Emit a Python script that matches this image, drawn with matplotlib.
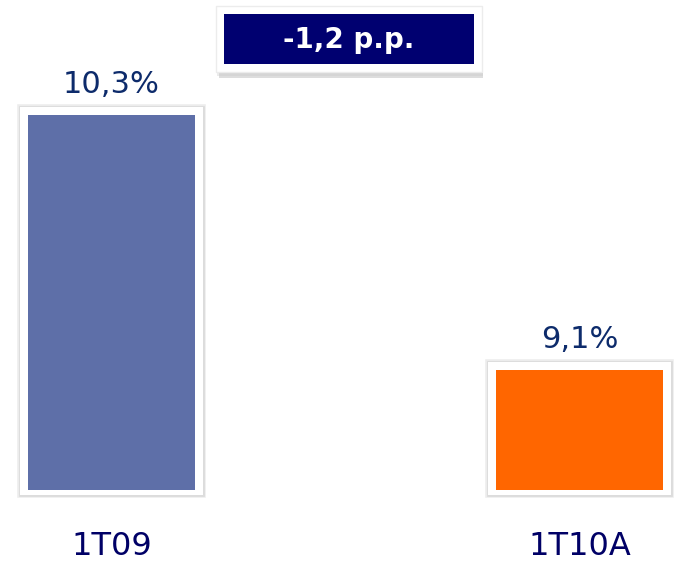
import matplotlib
matplotlib.use("Agg")
import matplotlib.pyplot as plt
from matplotlib.patches import Rectangle
import matplotlib.patheffects as pe

categories = ["1T09", "1T10A"]
values = [10.3, 9.1]
value_labels = ["10,3%", "9,1%"]
bar_colors = ["#5E6FA8", "#FF6600"]
diff_label = "-1,2 p.p."

W, H, DPI = 677, 570, 100
fig = plt.figure(figsize=(W / DPI, H / DPI), dpi=DPI)
fig.patch.set_facecolor("white")
ax = fig.add_axes([0, 0, 1, 1])
ax.set_axis_off()

base = 8.535
ax.set_ylim(8.159, 10.841)
ax.set_xlim(-0.238, 1.208)

x = list(range(len(categories)))
bar_w = 0.357
frame_w = 0.391
upp = 0.004706  # data units per pixel (vertical)

# white frames with soft shadow
frame_h = [v - base + 13 * upp for v in values]
ax.bar(x, frame_h, width=frame_w, bottom=base - 5 * upp, color="white",
       edgecolor="none", zorder=1,
       path_effects=[pe.withStroke(linewidth=4, foreground="#ececec"),
                     pe.withStroke(linewidth=2, foreground="#dcdcdc"), pe.Normal()])
ax.bar(x, frame_h, width=frame_w, bottom=base - 5 * upp, color="white",
       edgecolor="none", zorder=2)
# colored bars
ax.bar(x, [v - base for v in values], width=bar_w, bottom=base,
       color=bar_colors, edgecolor="none", zorder=3)

for xi, v, lab in zip(x, values, value_labels):
    ax.annotate(lab, xy=(xi, v), xytext=(0, 16), textcoords="offset points",
                ha="center", va="baseline", fontsize=22, color="#0D2B6B",
                family="DejaVu Sans")

for xi, c in zip(x, categories):
    ax.annotate(c, xy=(xi, base), xytext=(0, -47), textcoords="offset points",
                ha="center", va="baseline", fontsize=23, color="#000066",
                family="DejaVu Sans")

# difference box (figure pixel coordinates)
def fr(x0, y0, w, h, **kw):
    return Rectangle((x0 / W, 1 - (y0 + h) / H), w / W, h / H,
                     transform=fig.transFigure, **kw)

fig.patches.append(fr(219, 12, 264, 66, facecolor="#a0a0a0", edgecolor="none", alpha=0.35, zorder=4))
fig.patches.append(fr(217, 10, 266, 66, facecolor="#c8c8c8", edgecolor="none", alpha=0.35, zorder=4))
fig.patches.append(fr(216, 6, 266, 66, facecolor="white", edgecolor="#ececec", linewidth=1, zorder=5))
fig.patches.append(fr(224, 14, 250, 50, facecolor="#000070", edgecolor="none", zorder=6))
fig.text(349 / W, 1 - 40 / H, diff_label, ha="center", va="center",
         fontsize=20, fontweight="bold", color="white", zorder=7,
         family="DejaVu Sans")

fig.savefig("out.png", dpi=DPI, facecolor="white")
